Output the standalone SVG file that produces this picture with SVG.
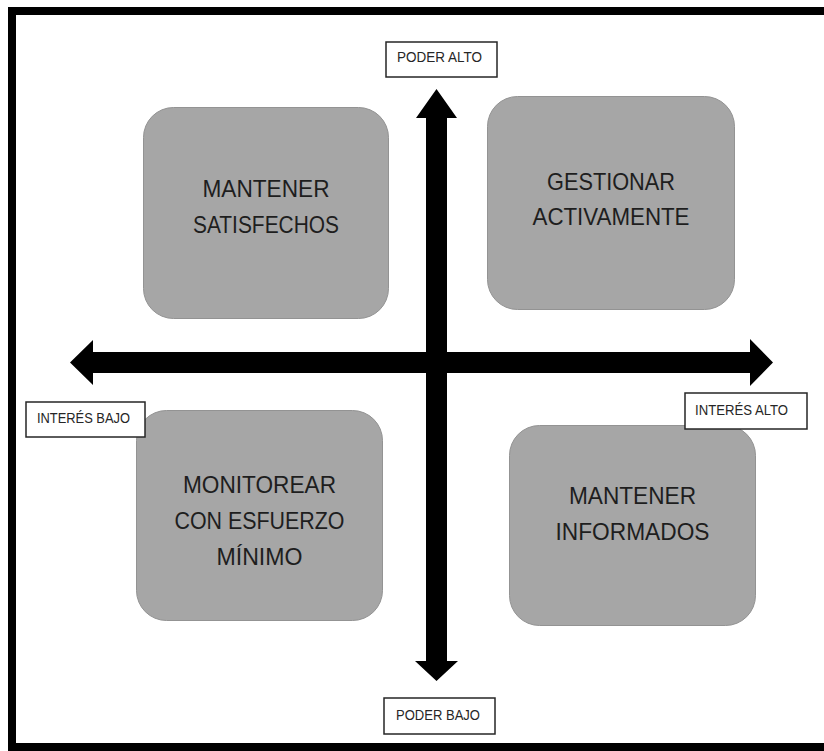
<svg xmlns="http://www.w3.org/2000/svg" width="824" height="751" viewBox="0 0 824 751">
  <style>
    .quad rect { fill: #a6a6a6; stroke: #939393; stroke-width: 1; }
    .quad text { font-family: "Liberation Sans", Arial, sans-serif; font-size: 24px; fill: #1e1e1e; text-anchor: middle; }
    .tag rect { fill: #ffffff; stroke: #262626; stroke-width: 1.5; }
    .tag text { font-family: "Liberation Sans", Arial, sans-serif; font-size: 14px; fill: #262626; }
    .axis { fill: #000000; }
  </style>

  <!-- page background and frame (open on the right) -->
  <rect x="0" y="0" width="824" height="751" fill="#ffffff"/>
  <path d="M830,11 H12 V747 H830" fill="none" stroke="#000000" stroke-width="8"/>

  <!-- quadrant nodes -->
  <g id="mantener-satisfechos" class="quad">
    <rect x="143.5" y="107.5" width="245" height="211" rx="30" ry="30"/>
    <text x="266" y="197" textLength="127" lengthAdjust="spacingAndGlyphs">MANTENER</text>
    <text x="266" y="233" textLength="146" lengthAdjust="spacingAndGlyphs">SATISFECHOS</text>
  </g>
  <g id="gestionar-activamente" class="quad">
    <rect x="487.5" y="96.5" width="247" height="213" rx="30" ry="30"/>
    <text x="611" y="190" textLength="128" lengthAdjust="spacingAndGlyphs">GESTIONAR</text>
    <text x="611" y="225" textLength="157" lengthAdjust="spacingAndGlyphs">ACTIVAMENTE</text>
  </g>
  <g id="monitorear" class="quad">
    <rect x="136.5" y="410.5" width="246" height="210" rx="30" ry="30"/>
    <text x="259.5" y="493" textLength="153" lengthAdjust="spacingAndGlyphs">MONITOREAR</text>
    <text x="259.5" y="529" textLength="170" lengthAdjust="spacingAndGlyphs">CON ESFUERZO</text>
    <text x="259.5" y="565" textLength="86" lengthAdjust="spacingAndGlyphs">MÍNIMO</text>
  </g>
  <g id="mantener-informados" class="quad">
    <rect x="509.5" y="425.5" width="246" height="200" rx="30" ry="30"/>
    <text x="632.5" y="504" textLength="127" lengthAdjust="spacingAndGlyphs">MANTENER</text>
    <text x="632.5" y="540" textLength="154" lengthAdjust="spacingAndGlyphs">INFORMADOS</text>
  </g>

  <!-- axes -->
  <g id="connectors" class="axis">
    <!-- power axis (vertical, double headed) -->
    <polygon points="436.5,89 457,118 447,118 447,661 458,661 436.5,681 415,661 426,661 426,118 416,118"/>
    <!-- interest axis (horizontal, double headed) -->
    <polygon points="70,362.5 93,340 93,352 750,352 750,339 773,362.5 750,386 750,373 93,373 93,385"/>
  </g>

  <!-- axis labels -->
  <g id="poder-alto" class="tag">
    <rect x="386" y="42" width="111" height="35"/>
    <text x="397" y="62" textLength="85" lengthAdjust="spacingAndGlyphs">PODER ALTO</text>
  </g>
  <g id="poder-bajo" class="tag">
    <rect x="384" y="698" width="111" height="36"/>
    <text x="396" y="720" textLength="84" lengthAdjust="spacingAndGlyphs">PODER BAJO</text>
  </g>
  <g id="interes-bajo" class="tag">
    <rect x="26" y="402" width="119" height="35"/>
    <text x="37" y="423" textLength="93" lengthAdjust="spacingAndGlyphs">INTERÉS BAJO</text>
  </g>
  <g id="interes-alto" class="tag">
    <rect x="685" y="393" width="122" height="36"/>
    <text x="695" y="415" textLength="93" lengthAdjust="spacingAndGlyphs">INTERÉS ALTO</text>
  </g>
</svg>
